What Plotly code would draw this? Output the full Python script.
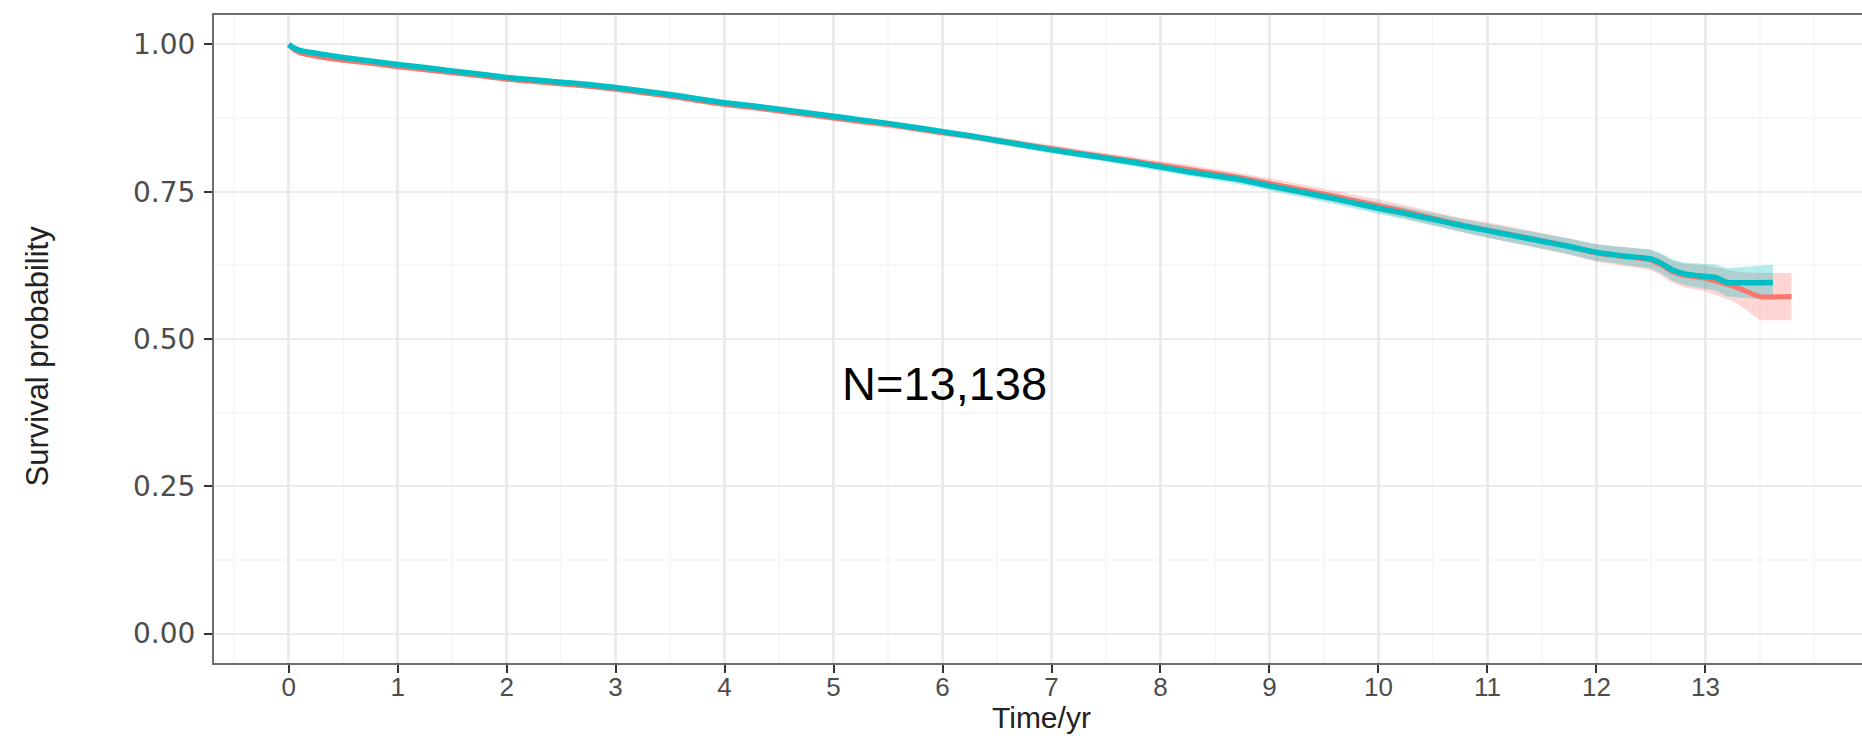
import plotly.graph_objects as go

# ---- data (Kaplan-Meier, two strata) ----
teal_t = [0, 0.05, 0.1, 0.25, 0.5, 0.75, 1.0, 1.25, 1.5, 1.75, 2.0, 2.25, 2.5, 2.75,
          3.0, 3.25, 3.5, 3.75, 4.0, 4.25, 4.5, 4.75, 5.0, 5.25, 5.5, 5.75, 6.0,
          6.25, 6.5, 6.75, 7.0, 7.25, 7.5, 7.75, 8.0, 8.25, 8.5, 8.75, 9.0, 9.25,
          9.5, 9.75, 10.0, 10.25, 10.5, 10.75, 11.0, 11.25, 11.5, 11.75, 12.0,
          12.25, 12.5, 12.6, 12.7, 12.8, 13.0, 13.1, 13.2, 13.62]
teal_s = [1.000, 0.994, 0.990, 0.985, 0.978, 0.972, 0.966, 0.961, 0.955, 0.950, 0.944,
          0.940, 0.936, 0.932, 0.927, 0.921, 0.915, 0.908, 0.901, 0.896, 0.890, 0.884,
          0.878, 0.872, 0.866, 0.859, 0.852, 0.845, 0.837, 0.829, 0.821, 0.814, 0.807,
          0.800, 0.792, 0.784, 0.777, 0.770, 0.760, 0.751, 0.742, 0.732, 0.722, 0.713,
          0.703, 0.693, 0.684, 0.675, 0.666, 0.657, 0.647, 0.641, 0.636, 0.628, 0.617,
          0.611, 0.606, 0.604, 0.596, 0.596]
teal_half = [0.000, 0.001, 0.001, 0.001, 0.002, 0.002, 0.002, 0.002, 0.002, 0.003, 0.003,
             0.003, 0.003, 0.003, 0.003, 0.003, 0.004, 0.004, 0.004, 0.004, 0.004, 0.004,
             0.005, 0.005, 0.005, 0.005, 0.005, 0.005, 0.006, 0.006, 0.006, 0.006, 0.006,
             0.007, 0.007, 0.007, 0.007, 0.008, 0.008, 0.008, 0.009, 0.009, 0.010, 0.010,
             0.011, 0.011, 0.012, 0.012, 0.013, 0.013, 0.014, 0.015, 0.016, 0.017, 0.018,
             0.019, 0.021, 0.022, 0.024, 0.030]

red_t = [0, 0.05, 0.1, 0.25, 0.5, 0.75, 1.0, 1.25, 1.5, 1.75, 2.0, 2.25, 2.5, 2.75,
         3.0, 3.25, 3.5, 3.75, 4.0, 4.25, 4.5, 4.75, 5.0, 5.25, 5.5, 5.75, 6.0,
         6.25, 6.5, 6.75, 7.0, 7.25, 7.5, 7.75, 8.0, 8.25, 8.5, 8.75, 9.0, 9.25,
         9.5, 9.75, 10.0, 10.25, 10.5, 10.75, 11.0, 11.25, 11.5, 11.75, 12.0,
         12.25, 12.5, 12.6, 12.7, 12.8, 13.0, 13.25, 13.35, 13.5, 13.79]
red_s = [1.000, 0.991, 0.986, 0.980, 0.973, 0.968, 0.962, 0.957, 0.952, 0.947, 0.941,
         0.937, 0.933, 0.929, 0.924, 0.918, 0.912, 0.905, 0.898, 0.893, 0.887, 0.881,
         0.875, 0.869, 0.864, 0.857, 0.850, 0.844, 0.837, 0.830, 0.823, 0.816, 0.809,
         0.802, 0.795, 0.788, 0.781, 0.773, 0.764, 0.755, 0.746, 0.736, 0.726, 0.716,
         0.705, 0.694, 0.685, 0.676, 0.667, 0.657, 0.646, 0.640, 0.634, 0.625, 0.614,
         0.608, 0.603, 0.590, 0.583, 0.572, 0.572]
red_half = [0.000, 0.001, 0.001, 0.001, 0.002, 0.002, 0.002, 0.002, 0.002, 0.003, 0.003,
            0.003, 0.003, 0.003, 0.003, 0.003, 0.004, 0.004, 0.004, 0.004, 0.004, 0.004,
            0.005, 0.005, 0.005, 0.005, 0.005, 0.006, 0.006, 0.006, 0.006, 0.007, 0.007,
            0.007, 0.007, 0.008, 0.008, 0.008, 0.009, 0.009, 0.010, 0.010, 0.011, 0.011,
            0.012, 0.012, 0.013, 0.013, 0.014, 0.014, 0.015, 0.016, 0.017, 0.018, 0.019,
            0.020, 0.022, 0.026, 0.030, 0.040, 0.040]

x_ticks = [0, 1, 2, 3, 4, 5, 6, 7, 8, 9, 10, 11, 12, 13]
y_ticks = [0.0, 0.25, 0.5, 0.75, 1.0]
y_tick_text = ["0.00", "0.25", "0.50", "0.75", "1.00"]
n_label = "N=13,138"

RED = "#F8766D"
TEAL = "#00BFC4"

fig = go.Figure()


def band(t, s, h, fill):
    lo = [a - b for a, b in zip(s, h)]
    hi = [a + b for a, b in zip(s, h)]
    fig.add_trace(go.Scatter(x=t, y=lo, mode="lines", line=dict(width=0),
                             hoverinfo="skip", showlegend=False))
    fig.add_trace(go.Scatter(x=t, y=hi, mode="lines", line=dict(width=0),
                             fill="tonexty", fillcolor=fill, hoverinfo="skip",
                             showlegend=False))


band(red_t, red_s, red_half, "rgba(248,118,109,0.30)")
band(teal_t, teal_s, teal_half, "rgba(0,191,196,0.30)")

fig.add_trace(go.Scatter(x=red_t, y=red_s, mode="lines",
                         line=dict(color=RED, width=5, shape="spline", smoothing=0.4),
                         showlegend=False))
fig.add_trace(go.Scatter(x=teal_t, y=teal_s, mode="lines",
                         line=dict(color=TEAL, width=5.5, shape="spline", smoothing=0.4),
                         showlegend=False))

L, T, B = 214, 15, 73
fig.update_layout(
    width=1862, height=736,
    margin=dict(l=L, r=0, t=T, b=B, pad=0),
    paper_bgcolor="white", plot_bgcolor="white",
    showlegend=False,
    font=dict(family="Liberation Sans, Arial, sans-serif", color="#222222"),
)

fig.update_xaxes(
    range=[-0.685, 14.437], tickmode="array", tickvals=x_ticks,
    ticktext=[str(v) for v in x_ticks],
    showgrid=True, gridcolor="#EBEBEB", gridwidth=2.5,
    minor=dict(dtick=0.5, tick0=0, showgrid=True, gridcolor="#F7F7F7", gridwidth=1.5,
               ticks=""),
    showline=True, linecolor="#6E6E6E", linewidth=2, mirror=True,
    ticks="outside", ticklen=8, tickwidth=2, tickcolor="#333333",
    tickfont=dict(family="Liberation Sans, Arial, sans-serif", size=26, color="#4D4D4D"),
    ticklabelstandoff=-8,
    zeroline=False,
)
fig.update_yaxes(
    range=[-0.05, 1.05], tickmode="array", tickvals=y_ticks, ticktext=y_tick_text,
    showgrid=True, gridcolor="#EBEBEB", gridwidth=2,
    minor=dict(dtick=0.125, tick0=0, showgrid=True, gridcolor="#F7F7F7", gridwidth=1.5,
               ticks=""),
    showline=True, linecolor="#6E6E6E", linewidth=2, mirror=False,
    ticks="outside", ticklen=8, tickwidth=2, tickcolor="#333333",
    tickfont=dict(family="DejaVu Sans, sans-serif", size=28, color="#4D4D4D"),
    ticklabelstandoff=3,
    zeroline=False,
)

pw = 1862 - L
ph = 736 - T - B
fig.add_annotation(text="Survival probability", xref="paper", yref="paper",
                   x=(36.5 - L) / pw, y=1 - (356 - T) / ph, textangle=-90,
                   showarrow=False, xanchor="center", yanchor="middle",
                   font=dict(family="Liberation Sans, Arial, sans-serif", size=31,
                             color="#222222"))
fig.add_annotation(text="Time/yr", xref="paper", yref="paper",
                   x=(1041 - L) / pw, y=1 - (736 - T) / ph,
                   showarrow=False, xanchor="center", yanchor="bottom",
                   font=dict(family="Liberation Sans, Arial, sans-serif", size=30,
                             color="#222222"))
fig.add_annotation(text=n_label, xref="x", yref="y", x=6.02, y=0.424,
                   showarrow=False, xanchor="center", yanchor="middle",
                   font=dict(family="Liberation Sans, Arial, sans-serif", size=47,
                             color="#000000"))

fig.write_html("out.html")
